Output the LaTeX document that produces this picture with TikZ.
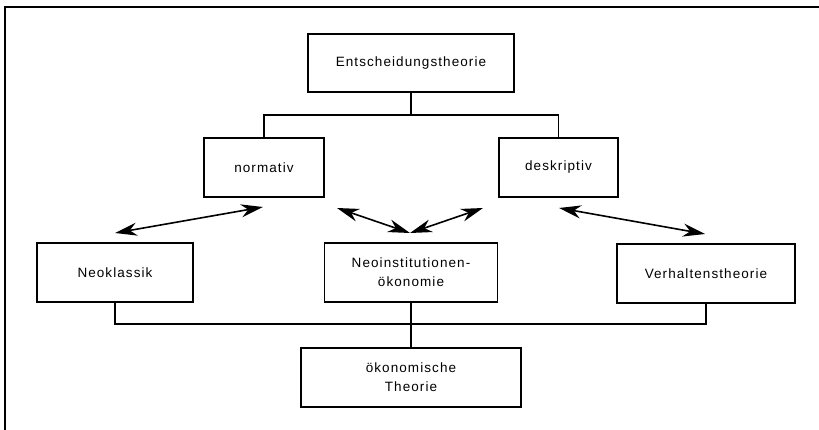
\documentclass[tikz,border=0pt]{standalone}
\usepackage{fontspec}
\newfontfamily\labfont{Liberation Sans}[LetterSpace=8]
\usetikzlibrary{arrows.meta}
\tikzset{
  box/.style={draw, line width=1.6pt, inner sep=0pt, align=center,
    font=\labfont\fontsize{13.5}{19}\selectfont},
  conn/.style={line width=1.6pt},
  dbl/.style={line width=1.6pt, {Stealth[length=22pt,width=13pt,inset=7pt]}-{Stealth[length=22pt,width=13pt,inset=7pt]}},
  frame/.style={line width=1.8pt}
}
\begin{document}
\begin{tikzpicture}[x=1pt,y=-1pt]
\useasboundingbox (0,0) rectangle (819,430);
% frame (top and left edges)
\coordinate (fr0) at (819,7);
\coordinate (fr1) at (5,7);
\coordinate (fr2) at (5,430);
\draw[frame] (fr0) -- (fr1) -- (fr2);

% boxes
\node[box, minimum width=206pt, minimum height=58pt] (E) at (411,63) {Entscheidungstheorie};
\node[box, minimum width=120pt, minimum height=59pt] (N) at (264,167.5) {normativ};
\node[box, minimum width=119pt, minimum height=59pt] (D) at (558.5,167.5) {deskriptiv};
\node[box, minimum width=156pt, minimum height=59pt] (K) at (115,272.5) {Neoklassik};
\node[box, minimum width=173pt, minimum height=59pt] (I) at (411,272.5) {Neoinstitutionen-\\ökonomie};
\node[box, minimum width=178pt, minimum height=59pt] (V) at (706,273.5) {Verhaltenstheorie};
\node[box, minimum width=220pt, minimum height=59pt] (O) at (411,377.5) {ökonomische\\Theorie};

% tree connectors (top)
\coordinate (tj) at (411,115);
\draw[conn] (E.south) -- (tj);
\draw[conn] (N.north) |- (tj) -| (D.north);

% tree connectors (bottom)
\coordinate (bj) at (411,324);
\draw[conn] (K.south) |- (bj) -| (V.south);
\draw[conn] (I.south) -- (O.north);

% double arrows
\coordinate (a1) at (115,233);
\coordinate (a2) at (263,207);
\coordinate (c0) at (410,233);
\coordinate (c1) at (337,208);
\coordinate (c2) at (483,208);
\coordinate (r1) at (559,208);
\coordinate (r2) at (705,234);
\draw[dbl] (a1) -- (a2);
\draw[dbl] (c1) -- (c0);
\draw[dbl] (c0) -- (c2);
\draw[dbl] (r1) -- (r2);
\end{tikzpicture}
\end{document}
